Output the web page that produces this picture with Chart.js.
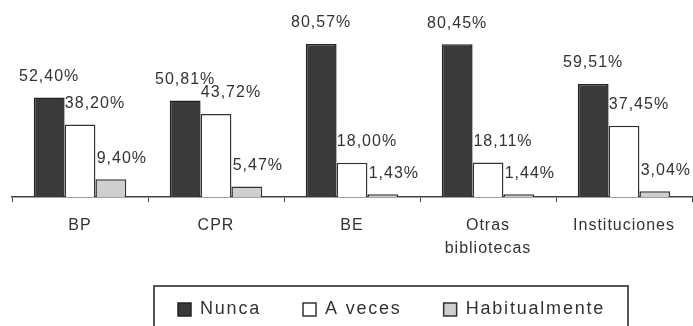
<!DOCTYPE html>
<html>
<head>
<meta charset="utf-8">
<script src="https://cdn.jsdelivr.net/npm/chart.js@4/dist/chart.umd.min.js"></script>
<style>
  html, body { margin: 0; padding: 0; background: #fff; }
  canvas { display: block; }
</style>
</head>
<body>
<canvas id="usoChart" width="693" height="326"></canvas>
<script>
// Frecuencia de uso por tipo de biblioteca (%)
const categorias = ["BP", "CPR", "BE", ["Otras", "bibliotecas"], "Instituciones"]
const series = ["Nunca", "A veces", "Habitualmente"]
const nunca = [52.40, 50.81, 80.57, 80.45, 59.51]
const aVeces = [38.20, 43.72, 18.00, 18.11, 37.45]
const habitualmente = [9.40, 5.47, 1.43, 1.44, 3.04]

const FUENTE = '"Liberation Sans", Arial, sans-serif'
const TEXTO = "#333"

const fmt = (v) => v.toFixed(2).replace(".", ",") + "%"

// etiquetas de valor, pintadas antes que las barras (las barras las tapan un poco)
const etiquetas = {
  id: "etiquetas",
  beforeDatasetsDraw(chart) {
    const ctx = chart.ctx
    const desplaz = [0, 15, 11]
    ctx.save()
    ctx.font = "16px " + FUENTE
    ctx.letterSpacing = "1px"
    ctx.fillStyle = TEXTO
    ctx.textAlign = "center"
    ctx.textBaseline = "middle"
    chart.data.datasets.forEach((ds, i) => {
      chart.getDatasetMeta(i).data.forEach((bar, j) => {
        ctx.fillText(fmt(ds.data[j]), bar.x + desplaz[i], bar.y - 21)
      })
    })
    ctx.restore()
  },
}

// leyenda en recuadro debajo del eje
const leyenda = {
  id: "leyenda",
  afterDraw(chart) {
    const ctx = chart.ctx
    ctx.save()
    ctx.strokeStyle = "#555"
    ctx.lineWidth = 2
    ctx.strokeRect(154, 286, 474, 60)
    ctx.font = "18px " + FUENTE
    ctx.letterSpacing = "1.8px"
    ctx.textBaseline = "middle"
    let x = 178
    const y = 309
    chart.data.datasets.forEach((ds) => {
      ctx.fillStyle = ds.backgroundColor
      ctx.fillRect(x, y - 6, 13, 13)
      ctx.strokeStyle = ds.borderColor
      ctx.lineWidth = 1.5
      ctx.strokeRect(x, y - 6, 13, 13)
      ctx.fillStyle = TEXTO
      ctx.fillText(ds.label, x + 22, y)
      x += 22 + ctx.measureText(ds.label).width + 42
    })
    ctx.restore()
  },
}

const espaciado = {
  id: "espaciado",
  beforeDraw(chart) {
    chart.ctx.letterSpacing = "1px"
  },
}

new Chart(document.getElementById("usoChart"), {
  type: "bar",
  data: {
    labels: categorias,
    datasets: [
      { label: series[0], data: nunca, backgroundColor: "#3a3a3a", borderColor: "#222" },
      { label: series[1], data: aVeces, backgroundColor: "#ffffff", borderColor: "#333" },
      { label: series[2], data: habitualmente, backgroundColor: "#cfcfcf", borderColor: "#333" },
    ],
  },
  options: {
    responsive: false,
    animation: false,
    devicePixelRatio: 1,
    layout: { padding: { top: 7, left: 12, right: 1, bottom: 0 } },
    datasets: {
      bar: { borderWidth: 1.5, barPercentage: 1, categoryPercentage: 0.68 },
    },
    plugins: {
      legend: { display: false },
      tooltip: { enabled: false },
    },
    scales: {
      y: { display: false, min: 0, max: 100 },
      x: {
        grid: { offset: true, drawOnChartArea: false, tickLength: 5, color: "#444" },
        border: { display: true, color: "#444", width: 1.5 },
        ticks: {
          color: TEXTO,
          font: { family: FUENTE, size: 16, lineHeight: 1.45 },
          padding: 12,
          maxRotation: 0,
          autoSkip: false,
        },
        afterFit(scale) {
          scale.height = 129
        },
      },
    },
  },
  plugins: [espaciado, etiquetas, leyenda],
})
</script>
</body>
</html>
